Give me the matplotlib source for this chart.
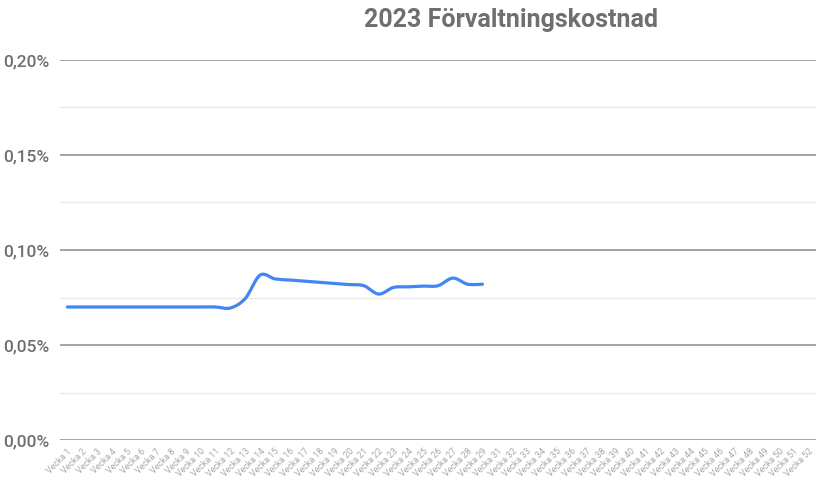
import matplotlib
matplotlib.use("Agg")
import matplotlib.pyplot as plt
from matplotlib.path import Path
from matplotlib.patches import PathPatch
from matplotlib.ticker import FuncFormatter, MultipleLocator
import numpy as np

title = "2023 Förvaltningskostnad"
week_numbers = [1, 2, 3, 4, 5, 6, 7, 8, 9, 10, 11, 12, 13, 14, 15, 16, 17, 18, 19,
                20, 21, 22, 23, 24, 25, 26, 27, 28, 29, 31, 32, 33, 34, 35, 36, 37,
                38, 39, 40, 41, 42, 43, 44, 45, 46, 47, 48, 49, 50, 51, 52]
categories = ["Vecka %d" % w for w in week_numbers]
# values in percent (only first 29 weeks reported)
values = [0.0700, 0.0700, 0.0700, 0.0700, 0.0700, 0.0700, 0.0700, 0.0700, 0.0700,
          0.0700, 0.0700, 0.0695, 0.0745, 0.0868, 0.0848, 0.0842, 0.0836, 0.0830,
          0.0824, 0.0818, 0.0812, 0.0768, 0.0803, 0.0806, 0.0810, 0.0812, 0.0852,
          0.0820, 0.0820]

plt.rcParams['font.family'] = ['Roboto', 'DejaVu Sans']

fig = plt.figure(figsize=(8.2, 4.84), dpi=100)
ax = fig.add_axes([60 / 820, 1 - 440 / 484, 756 / 820, 380 / 484])

x = np.arange(len(values), dtype=float)
y = np.array(values, dtype=float)

# smooth curve via cubic Bezier segments (Catmull-Rom control points)
verts = [(x[0], y[0])]
codes = [Path.MOVETO]
n = len(x)
for i in range(n - 1):
    p0 = np.array([x[max(i - 1, 0)], y[max(i - 1, 0)]])
    p1 = np.array([x[i], y[i]])
    p2 = np.array([x[i + 1], y[i + 1]])
    p3 = np.array([x[min(i + 2, n - 1)], y[min(i + 2, n - 1)]])
    c1 = p1 + (p2 - p0) / 6.0
    c2 = p2 - (p3 - p1) / 6.0
    verts += [tuple(c1), tuple(c2), tuple(p2)]
    codes += [Path.CURVE4, Path.CURVE4, Path.CURVE4]
patch = PathPatch(Path(verts, codes), fill=False, edgecolor="#4285F4",
                  linewidth=2.3, capstyle="round", joinstyle="round", zorder=5)
ax.add_patch(patch)

ax.set_xlim(-0.5, len(categories) - 0.5)
ax.set_ylim(0, 0.20)

ax.yaxis.set_major_locator(MultipleLocator(0.05))
ax.yaxis.set_minor_locator(MultipleLocator(0.025))
ax.yaxis.set_major_formatter(FuncFormatter(lambda v, p: ("%.2f%%" % v).replace(".", ",")))
ax.grid(which="major", axis="y", color="#8a8a8a", linewidth=1.1)
ax.grid(which="minor", axis="y", color="#e8e8e8", linewidth=1.0)
ax.set_axisbelow(True)

ax.set_xticks(np.arange(len(categories)))
ax.set_xticklabels(categories, rotation=45, ha="right", va="top",
                   rotation_mode="anchor", fontsize=6.3, color="#a8a8a8")
ax.tick_params(axis="x", length=0, pad=5)
ax.tick_params(axis="y", which="both", length=0, pad=8, labelsize=12.5,
               labelcolor="#6f6f6f")
for lab in ax.get_yticklabels():
    lab.set_fontweight("medium")

for s in ax.spines.values():
    s.set_visible(False)

fig.text(511 / 820, 1 - 20 / 484, title, ha="center", va="center",
         fontsize=18, fontweight="bold", color="#6f6f6f")

fig.savefig("out.png", dpi=100)
